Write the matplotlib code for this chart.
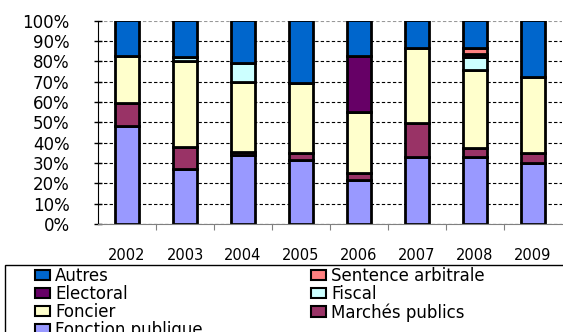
import numpy as np
import matplotlib
matplotlib.use('Agg')
import matplotlib.pyplot as plt
from matplotlib.patches import Rectangle, Patch

years = ['2002', '2003', '2004', '2005', '2006', '2007', '2008', '2009']

# shares in % (bottom to top of each bar)
fonction_publique = [48, 27, 34, 31.5, 21.5, 33, 33, 30]
marches_publics = [11.5, 11, 1.5, 3.5, 3.5, 16.5, 4.5, 5]
foncier = [23, 42, 34.5, 34.5, 30, 37, 38, 37]
fiscal = [0, 2, 9, 0, 0, 0, 6.5, 0]
electoral = [0, 0, 0, 0, 27.5, 0, 1.5, 0]
sentence_arbitrale = [0, 0, 0, 0, 0, 0, 3, 0]
autres = [17.5, 18, 21, 30.5, 17.5, 13.5, 13.5, 28]

series = [
    ('Fonction publique', fonction_publique, '#9999FF'),
    ('Marchés publics', marches_publics, '#993366'),
    ('Foncier', foncier, '#FFFFCC'),
    ('Fiscal', fiscal, '#CCFFFF'),
    ('Electoral', electoral, '#660066'),
    ('Sentence arbitrale', sentence_arbitrale, '#FF8080'),
    ('Autres', autres, '#0066CC'),
]

fig = plt.figure(figsize=(5.63, 3.32), dpi=100)
ax = fig.add_axes([98/563, 1-224/332, 464/563, 203.5/332])

x = np.arange(len(years))
bottom = np.zeros(len(years))
colors = {}
for name, vals, col in series:
    vals = np.array(vals, dtype=float)
    lw = [2.0 if v > 0 else 0 for v in vals]
    ax.bar(x, vals, 0.4, bottom=bottom, color=col, edgecolor='black',
           linewidth=lw, label=name)
    colors[name] = col
    bottom += vals

ax.set_xlim(-0.5, 7.5)
ax.set_ylim(0, 100)
ax.set_axisbelow(True)

ax.set_yticks(np.arange(0, 101, 10))
ax.set_yticklabels(['%d%%' % v for v in range(0, 101, 10)],
                   fontsize=12, family='DejaVu Sans')
ax.tick_params(axis='y', direction='inout', length=6, width=1, pad=17.5)
ax.yaxis.grid(True, linestyle=(0, (3, 2)), color='black', linewidth=0.8)
ax.get_ygridlines()[-1].set_color('#999999')

# category boundaries as ticks, year labels as minor ticks
ax.set_xticks(np.arange(0.5, 7.5, 1))
ax.set_xticklabels([])
ax.tick_params(axis='x', which='major', direction='out', length=4,
               color='#808080')
ax.set_xticks(x, minor=True)
ax.set_xticklabels(years, minor=True, fontsize=10.5, family='DejaVu Sans')
ax.tick_params(axis='x', which='minor', length=0, pad=17.5)

ax.spines['top'].set_visible(False)
ax.spines['right'].set_visible(False)
ax.spines['bottom'].set_color('#808080')
ax.spines['left'].set_color('black')

# legend (rows: Autres|Sentence arbitrale, Electoral|Fiscal, ...)
order = ['Autres', 'Electoral', 'Foncier', 'Fonction publique',
         'Sentence arbitrale', 'Fiscal', 'Marchés publics']
proxies = [Patch(facecolor=colors[n], edgecolor='black', linewidth=1.5)
           for n in order]
fig.legend(proxies, order, ncol=2,
           loc='upper left', bbox_to_anchor=(35/563, 1-267/332),
           frameon=False, borderpad=0, borderaxespad=0,
           prop={'family': 'DejaVu Sans', 'size': 12},
           handlelength=0.9, handleheight=0.6, handletextpad=0.3,
           labelspacing=0.0, columnspacing=6.5)
fig.patches.append(Rectangle((5/563, -0.2), 1.1, (332-265)/332 + 0.2,
                             transform=fig.transFigure, fill=False,
                             edgecolor='black', linewidth=1))

fig.savefig('out.png', dpi=100)
